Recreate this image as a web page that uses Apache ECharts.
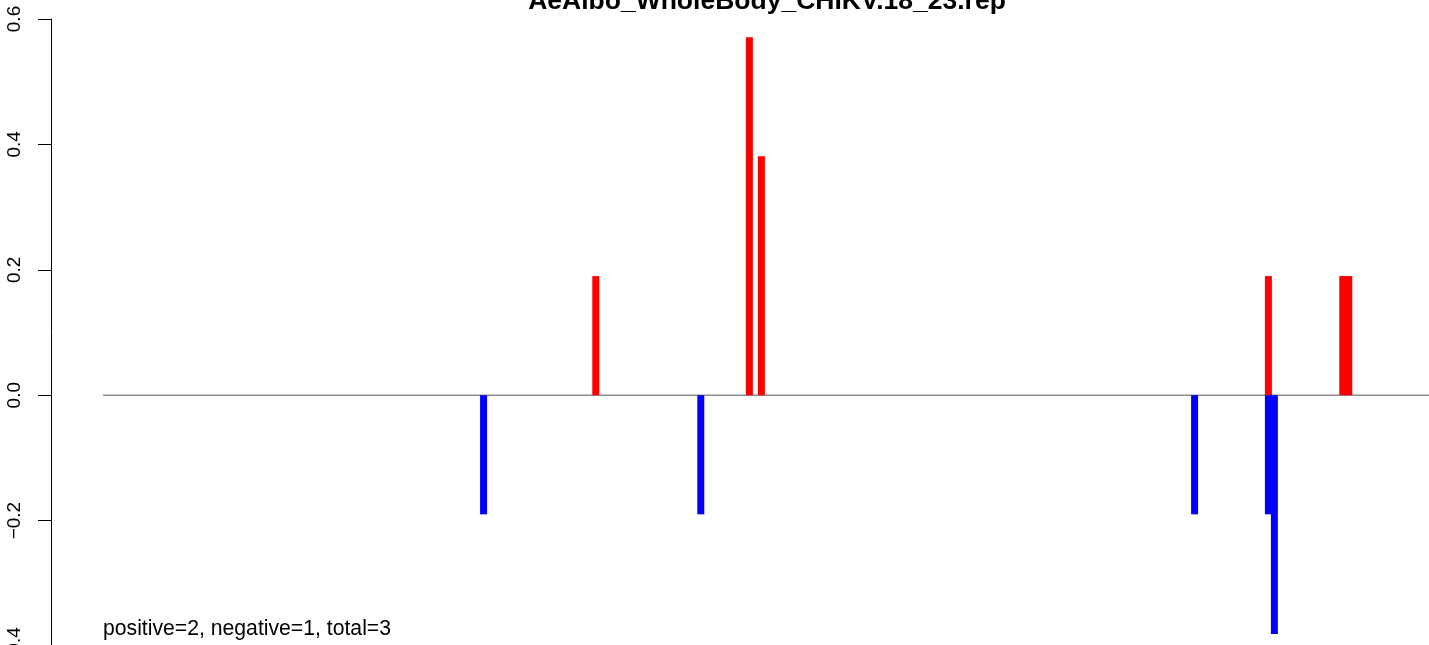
<!DOCTYPE html>
<html>
<head>
<meta charset="utf-8">
<script src="https://cdn.jsdelivr.net/npm/echarts@6/dist/echarts.min.js"></script>
<style>
html,body{margin:0;padding:0;background:#fff;}
#chart{width:1429px;height:645px;}
</style>
</head>
<body>
<div id="chart"></div>
<script>
const chartTitle = "AeAlbo_WholeBody_CHIKV.18_23.rep";
const summaryText = "positive=2, negative=1, total=3";
// bar positions (position index along the profile) and values
const positiveX = [90.8, 116.4, 118.4, 202.9, 215.3, 216.3];
const positiveY = [0.19, 0.571, 0.381, 0.19, 0.19, 0.19];
const negativeX = [72.1, 108.3, 190.6, 202.9, 203.9];
const negativeY = [-0.19, -0.19, -0.19, -0.19, -0.381];
const baselineX = [8.67, 229.67];
const xRange = [0, 229.67];
const yTicks = [-0.4, -0.2, 0.0, 0.2, 0.4, 0.6];

const FONT = "'Liberation Sans', Arial, Helvetica, sans-serif";
const chart = echarts.init(document.getElementById('chart'), null, {renderer: 'canvas'});
const zip = (xs, ys) => xs.map((x, i) => [x, ys[i]]);

chart.setOption({
  animation: false,
  backgroundColor: '#ffffff',
  grid: {left: 51, right: 0, top: 19, height: 627, outerBoundsMode: 'none', containLabel: false},
  xAxis: {
    type: 'value', min: xRange[0], max: xRange[1], show: false
  },
  yAxis: {
    type: 'value',
    min: yTicks[0], max: yTicks[yTicks.length - 1], interval: 0.2,
    splitLine: {show: false},
    axisLine: {show: true, lineStyle: {color: '#000', width: 1}},
    axisTick: {show: true, length: 13, lineStyle: {color: '#000', width: 1}},
    axisLabel: {
      rotate: 90, margin: 27, color: '#000', fontSize: 19, fontFamily: FONT,
      formatter: v => v.toFixed(1).replace('-', '\u2212')
    }
  },
  series: [
    {
      type: 'line', data: baselineX.map(x => [x, 0]), symbol: 'none',
      lineStyle: {color: '#8c8c8c', width: 1.5}, z: 1, silent: true
    },
    {
      type: 'bar', data: zip(positiveX, positiveY), barWidth: 7, barGap: '-100%',
      itemStyle: {color: '#ff0000'}, z: 2
    },
    {
      type: 'bar', data: zip(negativeX, negativeY), barWidth: 7, barGap: '-100%',
      itemStyle: {color: '#0000ff'}, z: 2
    }
  ],
  graphic: [
    {
      type: 'text', x: 767, y: 2,
      style: {text: chartTitle, fill: '#000', font: 'bold 26.5px ' + FONT, textAlign: 'center', textVerticalAlign: 'middle'}
    },
    {
      type: 'text', x: 103, y: 629,
      style: {text: summaryText, fill: '#000', font: '21.2px ' + FONT, textAlign: 'left', textVerticalAlign: 'middle'}
    }
  ]
});
</script>
</body>
</html>
